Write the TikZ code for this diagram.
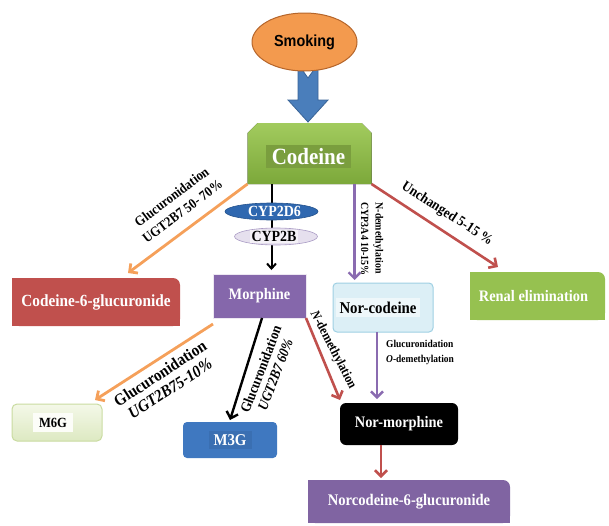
\documentclass[tikz,border=0pt]{standalone}
\usepackage{fontspec}
\setmainfont[FakeStretch=0.9]{Liberation Serif}
\newfontfamily\arialfont[FakeStretch=0.9]{Liberation Sans}
\usetikzlibrary{calc,arrows.meta,shapes.geometric}
\definecolor{smkO}{HTML}{F39A4E}
\definecolor{smkD}{HTML}{B5652A}
\definecolor{blueA}{HTML}{4A7EBB}
\definecolor{blueD}{HTML}{3A6497}
\definecolor{codTop}{HTML}{A2CB5E}
\definecolor{codBot}{HTML}{7CA83A}
\definecolor{codT}{HTML}{7A9E3E}
\definecolor{cypB}{HTML}{2F68B0}
\definecolor{cypBD}{HTML}{24528C}
\definecolor{lav}{HTML}{E6E0EE}
\definecolor{lavD}{HTML}{A99BC4}
\definecolor{morP}{HTML}{8567AB}
\definecolor{redB}{HTML}{C0504D}
\definecolor{renG}{HTML}{96C150}
\definecolor{ncF}{HTML}{DCEFF6}
\definecolor{ncD}{HTML}{9FD0E3}
\definecolor{ncT}{HTML}{EEF7FA}
\definecolor{n6gP}{HTML}{8064A2}
\definecolor{m3gB}{HTML}{3F78C0}
\definecolor{m3gT}{HTML}{3A6FB2}
\definecolor{m6gTop}{HTML}{F4F8E8}
\definecolor{m6gBot}{HTML}{DDE9C2}
\definecolor{m6gD}{HTML}{C9DBA0}
\definecolor{orA}{HTML}{F5A05A}
\definecolor{redA}{HTML}{C0504D}
\definecolor{purA}{HTML}{8A6BB0}
\newcommand\oneround[2]{%
  \fill[#2,rounded corners=7pt] (#1.south west) rectangle (#1.north east);
  \fill[#2] (#1.south west) rectangle ($(#1.north east)+(-8,0)$);
  \fill[#2] ($(#1.south east)+(-8,0)$) rectangle ($(#1.north east)+(0,8)$);}
\begin{document}
\begin{tikzpicture}[x=1pt,y=-1pt,
  shp/.style={inner sep=0pt, outer sep=0pt},
  lbl/.style={inner sep=0pt, align=center},
  tipb/.style={-{Straight Barb[length=6pt,width=12pt]}},
  tips/.style={-{Straight Barb[length=5pt,width=9pt]}},
]
\useasboundingbox (0,0) rectangle (609,525);

% frames
\node[shp, minimum width=124pt, minimum height=61pt] (cod) at (309.5,153.5) {};
\node[shp, minimum width=168pt, minimum height=48pt] (c6g) at (96,302) {};
\node[shp, minimum width=135pt, minimum height=48pt] (ren) at (537.5,296) {};
\node[shp, minimum width=202pt, minimum height=43pt] (n6g) at (409,501.5) {};

% blue block arrow (Smoking -> Codeine)
\coordinate (bt) at ($(cod.north)+(-1.5,-1)$);
\fill[blueA, draw=blueD, line width=0.8pt] (bt) -- ++(-20,-22) -- ++(10,0) -- ++(0,-36) -- ++(10,14) -- ++(10,-14) -- ++(0,36) -- ++(10,0) -- cycle;

% Smoking
\node[ellipse, shp, fill=smkO, draw=smkD, line width=1pt, minimum width=105pt, minimum height=58pt,
  font=\arialfont\bfseries\fontsize{16}{18}\selectfont] (smk) at (304.5,42) {Smoking};

% Codeine
\fill[top color=codTop, bottom color=codBot] ($(cod.north west)+(0,10)$) -- ($(cod.north west)+(10,0)$) -- ($(cod.north east)+(-10,0)$) -- ($(cod.north east)+(0,10)$) -- (cod.south east) -- (cod.south west) -- cycle;
\node[fill=codT, text=white, font=\bfseries\fontsize{23.3}{26}\selectfont, inner xsep=6pt, inner ysep=3pt] (codt) at ($(cod.center)+(-1,3)$) {Codeine};

% Codeine-6-glucuronide
\oneround{c6g}{redB}
\node[text=white, font=\bfseries\fontsize{17}{19}\selectfont, inner sep=0pt] (c6gt) at (c6g.center) {Codeine-6-glucuronide};

% Renal elimination
\oneround{ren}{renG}
\node[text=white, font=\bfseries\fontsize{16}{18}\selectfont, inner sep=0pt] (rent) at ($(ren.center)+(-4,0)$) {Renal elimination};

% Morphine
\node[shp, fill=morP, draw=white!85!morP, line width=1pt, minimum width=93pt, minimum height=44pt,
  text=white, font=\bfseries\fontsize{16}{18}\selectfont] (mor) at (259.5,296) {Morphine};

% Nor-codeine
\node[shp, fill=ncF, draw=ncD, line width=1pt, rounded corners=4pt, minimum width=100pt, minimum height=49pt] (nc) at (383,307.5) {};
\node[fill=ncT, font=\bfseries\fontsize{16.5}{18}\selectfont, inner xsep=4pt, inner ysep=4pt] (nct) at ($(nc.center)+(-5,0)$) {Nor-codeine};

% Nor-morphine
\node[shp, fill=black, rounded corners=6pt, minimum width=118pt, minimum height=42pt,
  text=white, font=\bfseries\fontsize{16}{18}\selectfont] (nm) at (399,424) {Nor-morphine};

% Norcodeine-6-glucuronide
\oneround{n6g}{n6gP}
\node[text=white, font=\bfseries\fontsize{16.2}{18}\selectfont, inner sep=0pt] (n6gt) at (n6g.center) {Norcodeine-6-glucuronide};

% M3G
\node[shp, fill=m3gB, rounded corners=4pt, minimum width=94pt, minimum height=36pt] (m3g) at (230,440) {};
\node[fill=m3gT, text=white, font=\bfseries\fontsize{16.5}{18}\selectfont, inner xsep=5pt, inner ysep=3pt] (m3gt) at (m3g.center) {M3G};

% M6G
\node[shp, top color=m6gTop, bottom color=m6gBot, draw=m6gD, line width=1pt, rounded corners=5pt, minimum width=90pt, minimum height=37pt] (m6g) at (57,422.5) {};
\node[fill=white!70!m6gTop, font=\bfseries\fontsize{14}{16}\selectfont, inner xsep=6pt, inner ysep=5pt] (m6gt) at ($(m6g.center)+(-4,0)$) {M6G};

% connectors
\draw[orA, line width=2.8pt, tipb] (cod.south west) -- ($(c6g.north)+(32,-5)$);
\coordinate (p0) at ($(cod.south)+(-38,0)$);
\draw[black, line width=2pt, tips, shorten >=4pt] (p0) -- (p0 |- mor.north);
\draw[redA, line width=2.6pt, tipb] (cod.south east) -- ($(ren.north)+(-39.5,-5)$);
\coordinate (p1) at ($(cod.south east)+(-17,0)$);
\draw[purA, line width=2.4pt, tipb, shorten >=3pt] (p1) -- (p1 |- nc.north);
\draw[orA, line width=2.8pt, tipb] ($(mor.south west)+(0,6)$) -- ($(m6g.north east)+(-7,-4)$);
\draw[black, line width=2.4pt, tipb] ($(mor.south)+(2.5,0)$) -- ($(m3g.north)+(0,-2)$);
\draw[redA, line width=2.6pt, tipb] (mor.south east) -- ($(nm.north west)+(0,-3)$);
\coordinate (p2) at ($(nc.south)+(-6,0)$);
\draw[purA, line width=2.4pt, tipb, shorten >=4pt] (p2) -- (p2 |- nm.north);
\coordinate (p3) at ($(nm.south)+(-18,0)$);
\draw[redA, line width=2.6pt, tipb, shorten >=2pt] (p3) -- (p3 |- n6g.north);

% enzymes on the Codeine -> Morphine arrow
\node[ellipse, shp, fill=cypB, draw=cypBD, line width=0.6pt, minimum width=93pt, minimum height=17pt] (cyp1) at (271.5,211.5) {};
\node[text=white, inner sep=0pt, font=\bfseries\fontsize{15.5}{17}\selectfont] (cyp1t) at ($(cyp1.center)+(3,0)$) {CYP2D6};
\node[ellipse, shp, fill=lav, draw=lavD, line width=0.6pt, minimum width=83pt, minimum height=17pt] (cyp2) at (276,236.5) {};
\node[fill=white!55!lav, text=black, inner xsep=1.5pt, inner ysep=1pt, font=\bfseries\fontsize{15.5}{17}\selectfont] (cyp2t) at ($(cyp2.center)+(-2,0)$) {CYP2B};

% labels
\node[lbl, rotate=37, font=\bfseries\fontsize{13.9}{18}\selectfont] (l1) at (177,204) {Glucuronidation\\UGT2B7 50- 70\%};
\node[lbl, rotate=-33, font=\bfseries\fontsize{14.4}{16}\selectfont] (l2) at (447,214) {Unchanged 5-15 \%};
\node[lbl, rotate=-90, align=left, font=\bfseries\fontsize{11}{14.5}\selectfont] (l3) at (372,239) {N-demethylation\\CYP3A4 10-15\%};
\node[lbl, anchor=west, align=left, font=\bfseries\fontsize{10.5}{15}\selectfont] (l4) at (386,352.5) {Glucuronidation\\\textit{O}-demethylation};
\node[lbl, rotate=-62.5, font=\bfseries\fontsize{13.3}{15}\selectfont] (l5) at (333,350) {\textit{N}-demethylation};
\node[lbl, rotate=69, font=\bfseries\fontsize{14.4}{15.5}\selectfont] (l6) at (268,372) {Glucuronidation\\\textit{UGT2B7 60\%}};
\node[lbl, rotate=33, font=\bfseries\fontsize{16.7}{18}\selectfont] (l7) at (165,381) {Glucuronidation\\\textit{UGT2B75-10\%}};
\end{tikzpicture}
\end{document}
